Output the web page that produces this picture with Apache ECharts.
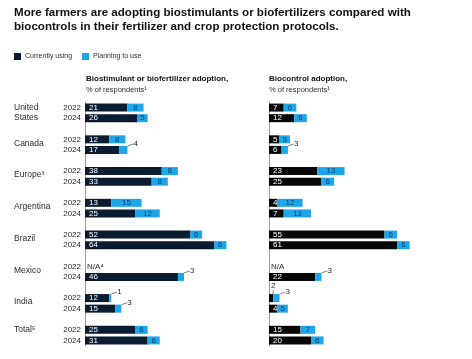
<!DOCTYPE html>
<html>
<head>
<meta charset="utf-8">
<script src="https://cdn.jsdelivr.net/npm/echarts@6/dist/echarts.min.js"></script>
<style>html,body{margin:0;padding:0;background:#fff}#c{width:472px;height:359px}</style>
</head>
<body>
<div id="c"></div>
<script>
// ---- data ----
const countries = ['United\nStates', 'Canada', 'Europe³', 'Argentina', 'Brazil', 'Mexico', 'India', 'Total⁵'];
const years = ['2022', '2024'];
// order: country by country, 2022 then 2024 (null = N/A)
const bioStimCurrent  = [21, 26, 12, 17, 38, 33, 13, 25, 52, 64, null, 46, 12, 15, 25, 31];
const bioStimPlanning = [8, 5, 8, 4, 8, 8, 15, 12, 6, 6, null, 3, 1, 3, 6, 6];
const bioCtrlCurrent  = [7, 12, 5, 6, 23, 25, 4, 7, 55, 61, null, 22, 2, 4, 15, 20];
const bioCtrlPlanning = [6, 6, 5, 3, 13, 6, 12, 13, 6, 6, null, 3, 3, 5, 7, 6];
const naLabels = ['N/A⁴', 'N/A'];
const seriesNames = ['Currently using', 'Planning to use'];
const panelTitles = ['Biostimulant or biofertilizer adoption,', 'Biocontrol adoption,'];
const panelSub = '% of respondents¹';

// ---- styles ----
const FONT = 'Liberation Sans, Arial, sans-serif';
const C_NAVY = '#0b1c30';
const C_BLACK = '#070707';
const C_BLUE = '#1ea6ea';
const C_TXT = '#2b2b2b';

// build slot categories (2022, 2024, spacer) per country
const cats = [];
const slotOf = [];
countries.forEach((c, ci) => {
  years.forEach((y) => { slotOf.push(cats.length); cats.push(ci + '|' + y); });
  if (ci < countries.length - 1) cats.push(ci + '|gap');
});
function toSlots(arr, mapFn) {
  const out = cats.map(() => '-');
  arr.forEach((v, i) => { out[slotOf[i]] = mapFn(v, i); });
  return out;
}
function currentItem(na) {
  return (v) => {
    if (v == null) return { value: 0, label: { show: true, position: 'right', distance: 2, formatter: na, color: C_TXT } };
    if (v <= 2) return { value: v, label: { show: true, position: 'top', distance: 2, color: C_TXT }, labelLine: { show: true } };
    return { value: v };
  };
}
function planItem(v) {
  if (v == null) return '-';
  if (v <= 4) return { value: v, label: { show: true, position: 'right', distance: 2, color: C_TXT }, labelLine: { show: true } };
  return { value: v };
}
function layoutFn(params) {
  const s = option.series[params.seriesIndex];
  const d = s.data[params.dataIndex];
  if (d && d.labelLine && d.labelLine.show) {
    if (d.label.position === 'top') return { dx: 2, dy: -2 };
    return { dx: 4, dy: -6 };
  }
  return {};
}
function countryLabel(v) {
  const p = v.split('|');
  if (p[1] !== '2022') return '';
  const ci = +p[0];
  const name = countries[ci];
  if (ci === countries.length - 1) return '{c|' + name + '}';
  const lines = name.split('\n');
  const spacer = lines.length > 1 ? '{s2| }' : '{s1| }';
  return spacer + '\n' + lines.map(l => '{c|' + l + '}').join('\n');
}

const grids = [
  { left: 85, width: 141.4, top: 102.3, height: 243.4, outerBoundsMode: 'none', containLabel: false },
  { left: 269, width: 147, top: 102.3, height: 243.4, outerBoundsMode: 'none', containLabel: false }
];

const option = {
  animation: false,
  backgroundColor: '#fff',
  textStyle: { fontFamily: FONT },
  title: [
    { text: 'More farmers are adopting biostimulants or biofertilizers compared with\nbiocontrols in their fertilizer and crop protection protocols.',
      left: 14, top: 6, padding: 0,
      textStyle: { fontFamily: FONT, fontSize: 11.6, fontWeight: 'bold', color: '#111', lineHeight: 14 } },
    { text: panelTitles[0], subtext: panelSub, left: 86, top: 75, padding: 0, itemGap: 3,
      textStyle: { fontFamily: FONT, fontSize: 8, fontWeight: 'bold', color: '#111' },
      subtextStyle: { fontFamily: FONT, fontSize: 7.5, color: C_TXT } },
    { text: panelTitles[1], subtext: panelSub, left: 269, top: 75, padding: 0, itemGap: 3,
      textStyle: { fontFamily: FONT, fontSize: 8, fontWeight: 'bold', color: '#111' },
      subtextStyle: { fontFamily: FONT, fontSize: 7.5, color: C_TXT } }
  ],
  legend: {
    data: seriesNames, left: 14, top: 53, padding: 0, itemWidth: 7, itemHeight: 7, itemGap: 10,
    icon: 'rect', textStyle: { fontFamily: FONT, fontSize: 7, color: C_TXT, padding: [0, 0, 0, -1] }
  },
  grid: grids,
  xAxis: [
    { gridIndex: 0, type: 'value', min: 0, max: 70, show: false },
    { gridIndex: 1, type: 'value', min: 0, max: 70, show: false }
  ],
  yAxis: [
    { gridIndex: 0, type: 'category', position: 'left', inverse: true, data: cats,
      axisLine: { show: true, lineStyle: { color: '#9c9c9c', width: 1 } },
      axisTick: { show: false },
      axisLabel: { interval: 0, margin: 4, fontSize: 8, color: C_TXT, fontFamily: FONT,
        formatter: (v) => { const p = v.split('|'); return p[1] === 'gap' ? '' : p[1]; } } },
    { gridIndex: 0, type: 'category', position: 'left', inverse: true, data: cats,
      axisLine: { show: false }, axisTick: { show: false },
      axisLabel: { interval: 0, margin: 71, align: 'left', color: C_TXT, fontFamily: FONT,
        formatter: countryLabel,
        rich: {
          s1: { fontSize: 1, lineHeight: 8 },
          s2: { fontSize: 1, lineHeight: 10 },
          c: { fontSize: 8.5, lineHeight: 10.5, color: C_TXT, fontFamily: FONT }
        } } },
    { gridIndex: 1, type: 'category', position: 'left', inverse: true, data: cats,
      axisLine: { show: true, lineStyle: { color: '#9c9c9c', width: 1 } },
      axisTick: { show: false }, axisLabel: { show: false } }
  ],
  series: [
    { name: seriesNames[0], type: 'bar', stack: 'a', xAxisIndex: 0, yAxisIndex: 0, barWidth: 8,
      itemStyle: { color: C_NAVY },
      label: { show: true, position: 'insideLeft', distance: 4, color: '#fff', fontSize: 8, fontFamily: FONT },
      labelLine: { show: false, lineStyle: { color: '#666', width: 0.8 } },
      labelLayout: layoutFn,
      data: toSlots(bioStimCurrent, currentItem(naLabels[0])) },
    { name: seriesNames[1], type: 'bar', stack: 'a', xAxisIndex: 0, yAxisIndex: 0, barWidth: 8,
      itemStyle: { color: C_BLUE },
      label: { show: true, position: 'inside', color: '#0b3c6a', fontSize: 8, fontFamily: FONT },
      labelLine: { show: false, lineStyle: { color: '#666', width: 0.8 } },
      labelLayout: layoutFn,
      data: toSlots(bioStimPlanning, planItem) },
    { name: seriesNames[0], type: 'bar', stack: 'b', xAxisIndex: 1, yAxisIndex: 2, barWidth: 8,
      itemStyle: { color: C_BLACK },
      label: { show: true, position: 'insideLeft', distance: 4, color: '#fff', fontSize: 8, fontFamily: FONT },
      labelLine: { show: false, lineStyle: { color: '#666', width: 0.8 } },
      labelLayout: layoutFn,
      data: toSlots(bioCtrlCurrent, currentItem(naLabels[1])) },
    { name: seriesNames[1], type: 'bar', stack: 'b', xAxisIndex: 1, yAxisIndex: 2, barWidth: 8,
      itemStyle: { color: C_BLUE },
      label: { show: true, position: 'inside', color: '#0b3c6a', fontSize: 8, fontFamily: FONT },
      labelLine: { show: false, lineStyle: { color: '#666', width: 0.8 } },
      labelLayout: layoutFn,
      data: toSlots(bioCtrlPlanning, planItem) }
  ]
};
const chart = echarts.init(document.getElementById('c'), null, { renderer: 'canvas' });
chart.setOption(option);
</script>
</body>
</html>
